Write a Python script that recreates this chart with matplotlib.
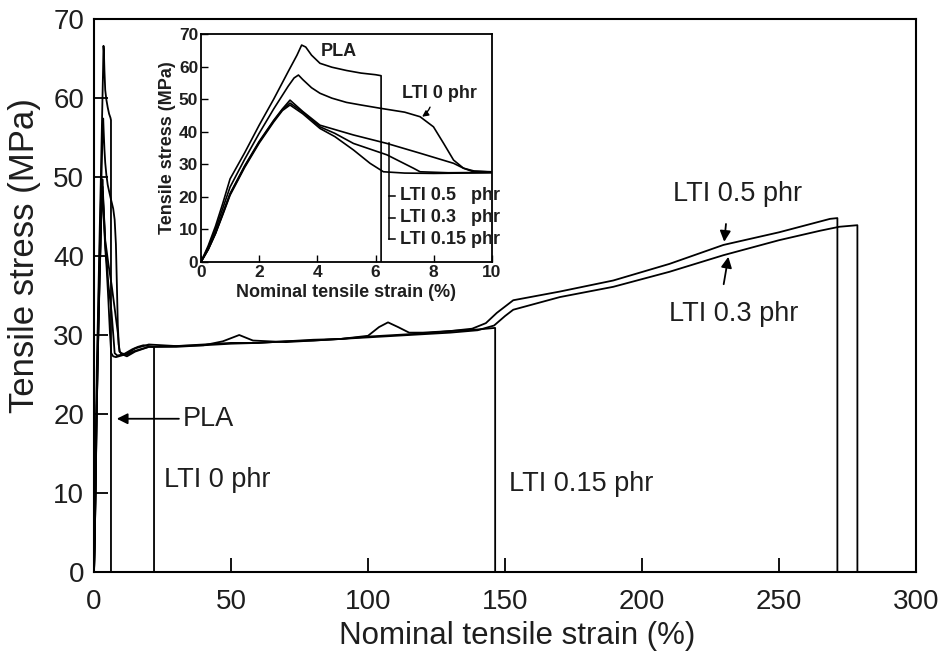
import matplotlib
matplotlib.use("Agg")
import matplotlib.pyplot as plt

plt.rcParams['font.family'] = ['Liberation Sans', 'DejaVu Sans']

# ---------------- data (strain %, stress MPa) ----------------
pla_strain = [0, 0.25, 0.5, 0.75, 1.0, 1.5, 2.0, 2.5, 3.0, 3.3, 3.46, 3.6, 3.8, 4.09,
              4.5, 5.0, 5.5, 6.0, 6.19, 6.19]
pla_stress = [0, 5, 11, 18, 25.5, 33.5, 42, 50, 58.5, 63.5, 66.6, 66.0, 63.5, 61.0,
              59.8, 58.8, 58.0, 57.5, 57.2, 0]

lti0_strain = [0, 0.25, 0.5, 0.75, 1.0, 1.5, 2.0, 2.5, 3.0, 3.2, 3.35, 3.5, 3.8, 4.09,
               4.5, 5.0, 5.5, 6.16, 7.0, 7.53, 7.99, 8.34, 8.68, 9.02, 9.3, 10, 11, 12,
               14, 16, 18, 20, 21.9, 21.9]
lti0_stress = [0, 4.5, 10, 16.5, 23, 31.5, 39.5, 47, 54, 56.5, 57.4, 56, 53.5, 51.8,
               50.3, 49, 48.2, 47.2, 46, 44.6, 41.5, 36.4, 31.3, 28.8, 27.9, 27.7, 27.6, 27.8,
               28.2, 28.5, 28.7, 28.6, 28.5, 0]

lti015_strain = [0, 0.25, 0.5, 0.75, 1.0, 1.5, 2.0, 2.5, 2.8, 3.06, 3.5, 4.09, 4.6, 5.24,
                 5.81, 6.27, 7.0, 8.0, 10, 12, 15, 20, 30, 40, 50, 60, 70, 80, 90, 100,
                 110, 120, 130, 140, 146.4, 146.4]
lti015_stress = [0, 3.8, 8.7, 14.5, 20.5, 29, 36.5, 43, 46.5, 48.2, 45.5, 41.0, 38.5, 34.4,
                 30.3, 27.7, 27.3, 27.2, 27.4, 27.6, 28.3, 28.8, 28.6, 28.8, 29.0, 29.0, 29.2,
                 29.4, 29.5, 29.8, 30.0, 30.2, 30.5, 30.7, 30.9, 0]

lti03_strain = [0, 0.25, 0.5, 0.75, 1.0, 1.5, 2.0, 2.5, 2.8, 3.06, 3.5, 4.09, 4.6, 5.24,
                6.39, 7.3, 7.53, 8.5, 10, 12, 15, 20, 30, 40, 47, 53, 58, 70, 80, 90, 100,
                110, 120, 130, 140, 146, 150, 153, 170, 189.5, 210, 229.7, 250, 265, 272,
                278.6, 278.6]
lti03_stress = [0, 3.9, 8.8, 14.8, 20.8, 29.3, 36.8, 43.3, 46.8, 48.8, 46.0, 41.5, 39.5, 36.4,
                32.9, 28.8, 27.7, 27.4, 27.5, 27.5, 28.0, 28.5, 28.5, 28.7, 29.2, 30.0, 29.3,
                29.1, 29.3, 29.5, 29.7, 29.9, 30.1, 30.3, 30.6, 31.2, 32.4, 33.2, 34.8, 36.1,
                38.0, 40.1, 42.0, 43.2, 43.7, 43.9, 0]

lti05_strain = [0, 0.25, 0.5, 0.75, 1.0, 1.5, 2.0, 2.5, 2.8, 3.06, 3.5, 4.09, 5.24, 6.39,
                7.53, 8.68, 9.02, 9.4, 10, 12, 15, 20, 30, 40, 50, 60, 70, 80, 90, 100, 104,
                107.3, 111, 115, 120, 130, 138, 143, 147, 153, 170, 189.5, 210, 229.7, 250,
                268.6, 271.3, 271.3]
lti05_stress = [0, 4, 9, 15, 21, 29.5, 37, 43.5, 47, 49.7, 46.2, 42.0, 39.0, 36.4,
                33.4, 30.3, 28.8, 27.9, 27.6, 27.3, 27.9, 28.5, 28.6, 28.7, 28.9, 29.0, 29.2,
                29.3, 29.5, 29.9, 31.0, 31.6, 31.0, 30.3, 30.3, 30.5, 30.8, 31.5, 32.8, 34.4,
                35.5, 36.9, 39.0, 41.4, 43.0, 44.7, 44.8, 0]

series = [(pla_strain, pla_stress), (lti0_strain, lti0_stress),
          (lti015_strain, lti015_stress), (lti03_strain, lti03_stress),
          (lti05_strain, lti05_stress)]

main_xticks = [0, 50, 100, 150, 200, 250, 300]
main_yticks = [0, 10, 20, 30, 40, 50, 60, 70]
inset_xticks = [0, 2, 4, 6, 8, 10]
inset_yticks = [0, 10, 20, 30, 40, 50, 60, 70]

TXT = '#1e1e1e'

# ---------------- figure ----------------
fig = plt.figure(figsize=(9.43, 6.55), dpi=100)
ax = fig.add_axes([0.0997, 0.1267, 0.8717, 0.8443])
for xs, ys in series:
    ax.plot(xs, ys, color='black', lw=1.3, solid_joinstyle='round')

ax.set_xlim(0, 300)
ax.set_ylim(0, 70)
ax.set_xticks(main_xticks)
ax.set_yticks(main_yticks)
ax.tick_params(direction='in', length=10, width=1.3, labelsize=20,
               top=False, right=False, colors='black', labelcolor=TXT)
ax.tick_params(axis='x', pad=12)
ax.tick_params(axis='y', pad=7)
for s in ax.spines.values():
    s.set_linewidth(1.5)
ax.set_xlabel('Nominal tensile strain (%)', fontsize=22.5, color=TXT)
ax.set_ylabel('Tensile stress (MPa)', fontsize=25, color=TXT)
ax.xaxis.set_label_coords(0.515, -0.088)
ax.yaxis.set_label_coords(-0.064, 0.573)

ann_kw = dict(fontsize=19.5, color=TXT)
ax.annotate('PLA', xy=(8.3, 19.4), xytext=(32.5, 19.4), va='center', ha='left',
            arrowprops=dict(arrowstyle='-|>', color='black', lw=1.3, mutation_scale=16,
                            shrinkA=1, shrinkB=0), **ann_kw)
ax.text(25.5, 11.6, 'LTI 0 phr', va='center', ha='left', **ann_kw)
ax.text(151.5, 11.2, 'LTI 0.15 phr', va='center', ha='left', **ann_kw)
ax.annotate('LTI 0.5 phr', xy=(230, 41.8), xytext=(235, 47.8), va='center', ha='center',
            arrowprops=dict(arrowstyle='-|>', color='black', lw=1.3, mutation_scale=16,
                            shrinkA=10, shrinkB=0, relpos=(0.42, 0)), **ann_kw)
ax.annotate('LTI 0.3 phr', xy=(231.5, 39.9), xytext=(233.5, 32.7), va='center', ha='center',
            arrowprops=dict(arrowstyle='-|>', color='black', lw=1.3, mutation_scale=16,
                            shrinkA=10, shrinkB=0, relpos=(0.4, 1)), **ann_kw)

# ---------------- inset ----------------
ins = fig.add_axes([0.2131, 0.6, 0.3086, 0.3481])
ins.set_facecolor('white')
for xs, ys in series:
    ins.plot(xs, ys, color='black', lw=1.2, solid_joinstyle='round')
ins.set_xlim(0, 10)
ins.set_ylim(0, 70)
ins.set_xticks(inset_xticks)
ins.set_yticks(inset_yticks)
ins.tick_params(direction='in', length=5, width=1.0, labelsize=12.5, pad=2,
                top=False, right=False, labelcolor=TXT)
for lab in ins.get_xticklabels() + ins.get_yticklabels():
    lab.set_fontweight('bold')
for s in ins.spines.values():
    s.set_linewidth(1.3)
ins.set_xlabel('Nominal tensile strain (%)', fontsize=13, fontweight='bold', labelpad=3,
               color=TXT)
ins.set_ylabel('Tensile stress (MPa)', fontsize=13, fontweight='bold', labelpad=2,
               color=TXT)

ik = dict(fontsize=13, fontweight='bold', color=TXT)
ins.text(4.1, 64.6, 'PLA', va='center', ha='left', **ik)
ins.annotate('LTI 0 phr', xy=(7.6, 44.6), xytext=(6.9, 51.8), va='center', ha='left',
             arrowprops=dict(arrowstyle='-|>', color='black', lw=1.0, mutation_scale=9,
                             shrinkA=2, shrinkB=0, relpos=(0.4, 0),
                             connectionstyle='arc3,rad=-0.2'), **ik)
bx, bx2 = 6.45, 6.68
ins.plot([bx, bx], [36.4, 7.0], color='black', lw=1.1)
for yv, lab in [(20.3, 'LTI 0.5   phr'), (13.6, 'LTI 0.3   phr'), (7.0, 'LTI 0.15 phr')]:
    ins.plot([bx, bx2], [yv, yv], color='black', lw=1.1)
    ins.text(6.85, yv, lab, va='center', ha='left', **ik)

fig.savefig('out.png', dpi=100)
